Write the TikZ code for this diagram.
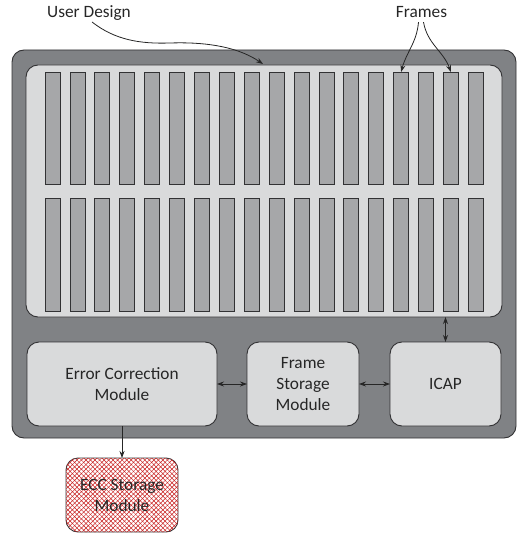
\documentclass[tikz,border=0pt]{standalone}
\usepackage{fontspec}
\setmainfont{Carlito}
\usetikzlibrary{arrows.meta,patterns.meta}
\definecolor{chipgray}{RGB}{128,130,133}
\definecolor{fabricgray}{RGB}{217,218,219}
\definecolor{framegray}{RGB}{166,167,169}
\definecolor{edgegray}{RGB}{50,50,52}
\definecolor{hatchred}{RGB}{200,30,30}

\begin{document}
\begin{tikzpicture}[x=1pt,y=1pt,
  every node/.style={font=\fontsize{17.3}{21}\selectfont,text=black!85},
  box/.style={draw=edgegray,line width=0.9pt,rounded corners=12pt,inner sep=0pt,outer sep=0pt,align=center},
  framebox/.style={draw=edgegray,fill=framegray,line width=0.8pt,minimum width=15pt,inner sep=0pt,outer sep=0pt},
  link/.style={{Stealth[length=7pt,width=5pt]}-{Stealth[length=7pt,width=5pt]},line width=0.8pt,draw=black!85},
  tip/.style={-{Stealth[length=7pt,width=5pt]},line width=0.8pt,draw=black!85}]
\useasboundingbox (0,0) rectangle (524,-537);
\node[box,fill=chipgray,minimum width=504pt,minimum height=388pt] (chip) at (264,-244) {};
\node[box,fill=fabricgray,minimum width=476pt,minimum height=252pt] (fabric) at (264,-191) {};
\foreach \i in {1,...,18}{
  \node[framebox,minimum height=112pt] (f-1-\i) at ({52.5+24.9*(\i-1)},-128) {};
  \node[framebox,minimum height=113pt] (f-2-\i) at ({52.5+24.9*(\i-1)},-254.5) {};
}
\node[box,fill=fabricgray,minimum width=190pt,minimum height=84pt] (ecm) at (122,-384) {Error Correction\\Module};
\node[box,fill=fabricgray,minimum width=112pt,minimum height=84pt] (fsm) at (303,-384) {Frame\\Storage\\Module};
\node[box,fill=fabricgray,minimum width=111pt,minimum height=84pt] (icap) at (445.5,-384) {ICAP};
\node[box,fill=white,minimum width=112pt,minimum height=74pt,
  postaction={pattern={Lines[angle=45,distance=3.2pt,line width=0.5pt]},pattern color=hatchred},
  postaction={pattern={Lines[angle=-45,distance=3.2pt,line width=0.5pt]},pattern color=hatchred}]
  (ecc) at (122,-495) {ECC Storage\\Module};
\node (ud) at (89,-13) {User Design};
\node (frames) at (421.5,-12) {Frames};
\coordinate (udtip) at (263,-64);
\draw[link] (ecm) -- (fsm);
\draw[link] (fsm) -- (icap);
\draw[link] (icap.north) -- (icap.north |- fabric.south);
\draw[tip] (ecm.south) -- (ecc.north);
\draw[tip] ([xshift=3pt,yshift=2pt]ud.south) .. controls (115,-40) and (140,-44) .. (170,-43)
  .. controls (200,-42) and (235,-45) .. (udtip);
\draw[tip] ([xshift=-3pt,yshift=-1pt]frames.south) to[out=-95,in=75] (f-1-15.north);
\draw[tip] ([xshift=2pt,yshift=-1pt]frames.south) to[out=-80,in=110] (f-1-17.north);
\end{tikzpicture}
\end{document}
